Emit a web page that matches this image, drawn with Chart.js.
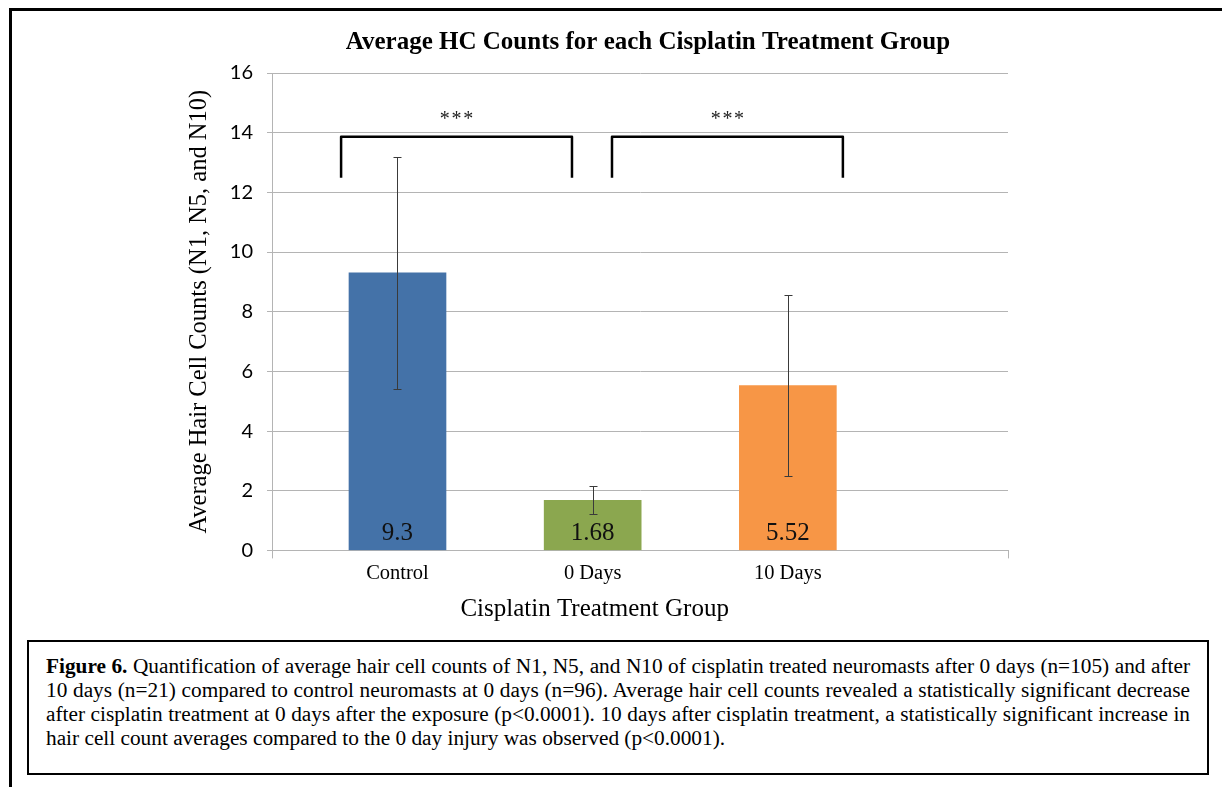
<!DOCTYPE html>
<html>
<head>
<meta charset="utf-8">
<script src="https://cdn.jsdelivr.net/npm/chart.js@4.4.1/dist/chart.umd.min.js"></script>
<style>
  html, body { margin: 0; padding: 0; background: #fff; width: 1222px; height: 787px; overflow: hidden; }
  .frame-top { position: absolute; left: 9px; top: 8px; width: 1213px; height: 3px; background: #000; }
  .frame-left { position: absolute; left: 9px; top: 8px; width: 3px; height: 779px; background: #000; }
  #wrap { position: absolute; left: 100px; top: 12px; width: 1096px; height: 620px; }
  .caption {
    position: absolute; left: 27px; top: 640px; width: 1144px; height: 107px;
    border: 2px solid #000; padding: 12px 17px 12px 17px;
    font-family: "Liberation Serif", "Times New Roman", serif; font-size: 21.3px; line-height: 24px; color: #000;
  }
  .caption div { white-space: nowrap; }
  .caption .j { text-align: justify; text-align-last: justify; }
</style>
</head>
<body>
<div class="frame-top"></div>
<div class="frame-left"></div>
<div id="wrap"><canvas id="chart" width="1096" height="620"></canvas></div>
<div class="caption">
  <div class="j"><b>Figure 6.</b> Quantification of average hair cell counts of N1, N5, and N10 of cisplatin treated neuromasts after 0 days (n=105) and after</div>
  <div class="j">10 days (n=21) compared to control neuromasts at 0 days (n=96). Average hair cell counts revealed a statistically significant decrease</div>
  <div class="j">after cisplatin treatment at 0 days after the exposure (p&lt;0.0001). 10 days after cisplatin treatment, a statistically significant increase in</div>
  <div>hair cell count averages compared to the 0 day injury was observed (p&lt;0.0001).</div>
</div>
<script>
// Group names, mean hair cell counts and their error (± half-range)
const categories = ['Control', '0 Days', '10 Days'];
const meanCounts = [9.3, 1.68, 5.52];
const errorHalf = [3.88, 0.47, 3.03];
const yTicks = [0, 2, 4, 6, 8, 10, 12, 14, 16];

// Significance comparisons: bracket extent on the group axis, bracket heights, marker
const bracketFrom = [-0.289, 1.099];
const bracketTo = [0.894, 2.282];
const bracketTop = 13.86;
const bracketFoot = 12.49;
const starLevel = 14.56;
const starText = '***';

const barColors = ['#4472A8', '#8BA74F', '#F79646'];
const gridGray = '#b4b4b4';
const serif = '"Liberation Serif", "Times New Roman", serif';

const X_MIN = -0.643, X_MAX = 3.128;

const errorBars = {
  id: 'errorBars',
  afterDatasetsDraw(chart) {
    const { ctx, scales: { x, y } } = chart;
    ctx.save();
    ctx.strokeStyle = '#3a3a3a';
    ctx.lineWidth = 1;
    meanCounts.forEach((m, i) => {
      const px = Math.round(x.getPixelForValue(i)) + 0.5;
      const top = Math.round(y.getPixelForValue(m + errorHalf[i])) + 0.5;
      const bot = Math.round(y.getPixelForValue(m - errorHalf[i])) + 0.5;
      ctx.beginPath();
      ctx.moveTo(px, top); ctx.lineTo(px, bot);
      ctx.moveTo(px - 4, top); ctx.lineTo(px + 4, top);
      ctx.moveTo(px - 4, bot); ctx.lineTo(px + 4, bot);
      ctx.stroke();
    });
    ctx.restore();
  }
};

const valueLabels = {
  id: 'valueLabels',
  afterDatasetsDraw(chart) {
    const { ctx, scales: { x, y } } = chart;
    ctx.save();
    ctx.font = '25px ' + serif;
    ctx.fillStyle = '#111';
    ctx.textAlign = 'center';
    ctx.textBaseline = 'middle';
    meanCounts.forEach((m, i) => {
      ctx.fillText(String(m), x.getPixelForValue(i), y.getPixelForValue(0) - 17);
    });
    ctx.restore();
  }
};

const significance = {
  id: 'significance',
  afterDraw(chart) {
    const { ctx, scales: { x, y } } = chart;
    ctx.save();
    ctx.strokeStyle = '#000';
    ctx.lineWidth = 2.5;
    ctx.lineJoin = 'round';
    ctx.font = '20px ' + serif;
    ctx.fillStyle = '#222';
    ctx.textAlign = 'center';
    ctx.textBaseline = 'middle';
    bracketFrom.forEach((f, i) => {
      const x0 = x.getPixelForValue(f), x1 = x.getPixelForValue(bracketTo[i]);
      const yt = y.getPixelForValue(bracketTop), yf = y.getPixelForValue(bracketFoot);
      ctx.beginPath();
      ctx.moveTo(x0, yf); ctx.lineTo(x0, yt); ctx.lineTo(x1, yt); ctx.lineTo(x1, yf);
      ctx.stroke();
      ctx.fillText(starText.split('').join('\u200A'), (x0 + x1) / 2, y.getPixelForValue(starLevel) + 4);
    });
    ctx.restore();
  }
};

const xTitle = {
  id: 'xTitle',
  afterDraw(chart) {
    const { ctx, scales: { x, y } } = chart;
    ctx.save();
    ctx.font = '25px ' + serif;
    ctx.fillStyle = '#000';
    ctx.textAlign = 'center';
    ctx.textBaseline = 'middle';
    ctx.fillText('Cisplatin Treatment Group', x.getPixelForValue(1) + 2, y.getPixelForValue(0) + 59);
    ctx.restore();
  }
};

new Chart(document.getElementById('chart'), {
  type: 'bar',
  data: {
    datasets: [{
      data: categories.map((c, i) => ({ x: i, y: meanCounts[i] })),
      backgroundColor: barColors,
      borderWidth: 0,
      barThickness: 97
    }]
  },
  options: {
    responsive: false,
    animation: false,
    layout: { padding: { top: 0, left: 0, right: 0, bottom: 43 } },
    plugins: {
      legend: { display: false },
      tooltip: { enabled: false },
      title: {
        display: true,
        text: 'Average HC Counts for each Cisplatin Treatment Group',
        color: '#000',
        font: { family: serif, size: 25, weight: 'bold', lineHeight: 1.2 },
        padding: { top: 16, bottom: 15 }
      }
    },
    scales: {
      x: {
        type: 'linear',
        offset: false,
        min: X_MIN,
        max: X_MAX,
        afterBuildTicks(scale) {
          scale.ticks = [X_MIN, ...categories.map((c, i) => i), X_MAX].map(v => ({ value: v }));
        },
        ticks: {
          autoSkip: false,
          maxRotation: 0,
          padding: 3,
          color: '#000',
          font: { family: serif, size: 20.5, lineHeight: 1.2 },
          callback: (v) => (Number.isInteger(v) && categories[v] !== undefined ? categories[v] : '')
        },
        grid: {
          offset: false,
          drawOnChartArea: false,
          drawTicks: true,
          tickLength: 8,
          color: (c) => (c.tick && (c.tick.value === X_MIN || c.tick.value === X_MAX) ? gridGray : 'rgba(0,0,0,0)')
        },
        border: { display: true, color: gridGray }
      },
      y: {
        min: 0,
        max: 16,
        afterBuildTicks(scale) { scale.ticks = yTicks.map(v => ({ value: v })); },
        afterFit(scale) { scale.width = 172; },
        ticks: {
          padding: 14,
          color: '#000',
          font: { family: 'Lato, "Open Sans", sans-serif', size: 20 }
        },
        grid: { color: gridGray, tickLength: 5, drawTicks: true },
        border: { display: true, color: gridGray },
        title: {
          display: true,
          text: 'Average Hair Cell Counts (N1, N5, and N10)',
          color: '#000',
          font: { family: serif, size: 24.5, lineHeight: 1.2 },
          padding: { top: 85.3, bottom: 0 }
        }
      },
      y2: {
        position: 'right',
        min: 0,
        max: 1,
        afterFit(scale) { scale.width = 188; },
        ticks: { display: false },
        grid: { display: false },
        border: { display: false }
      }
    }
  },
  plugins: [errorBars, valueLabels, significance, xTitle]
});
</script>
</body>
</html>
